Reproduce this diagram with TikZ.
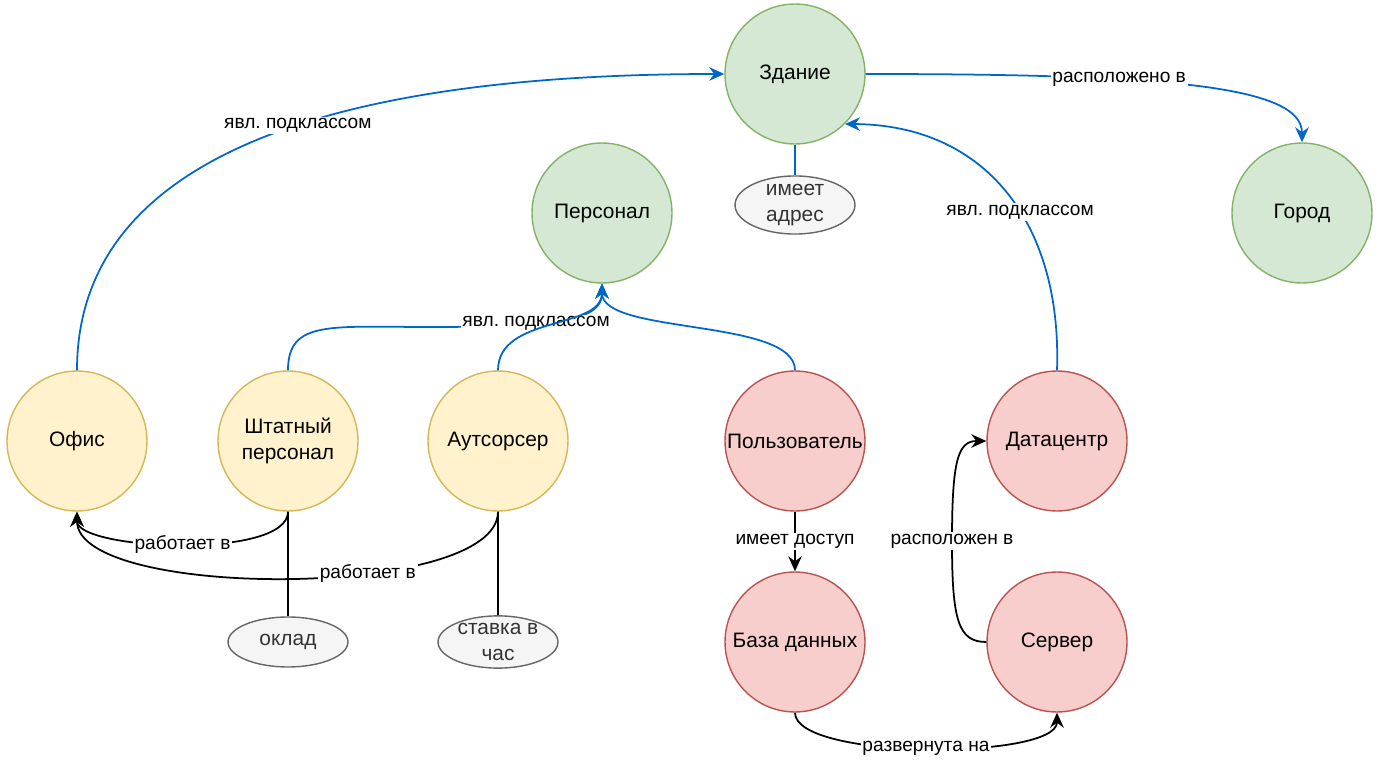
\documentclass[tikz,border=0pt]{standalone}
\usepackage{fontspec}
\setmainfont{Liberation Sans}
\usetikzlibrary{arrows.meta,shapes.geometric}
\definecolor{GeoFill}{HTML}{D5E8D4}
\definecolor{GeoLine}{HTML}{82B366}
\definecolor{StaffFill}{HTML}{FFF2CC}
\definecolor{StaffLine}{HTML}{D6B656}
\definecolor{TechFill}{HTML}{F8CECC}
\definecolor{TechLine}{HTML}{B85450}
\definecolor{AttrFill}{HTML}{F5F5F5}
\definecolor{AttrLine}{HTML}{666666}
\definecolor{AttrText}{HTML}{333333}
\definecolor{LinkBlue}{HTML}{0066CC}

\begin{document}
\frenchspacing
\begin{tikzpicture}[x=0.02cm,y=-0.02cm,
  cls/.style={circle,line width=0.8pt,minimum size=2.8cm,inner sep=0pt,align=center,
    font=\fontsize{11.9}{14.5}\selectfont},
  geo/.style={cls,draw=GeoLine,fill=GeoFill},
  staffc/.style={cls,draw=StaffLine,fill=StaffFill},
  techc/.style={cls,draw=TechLine,fill=TechFill},
  attr/.style={ellipse,draw=AttrLine,fill=AttrFill,text=AttrText,line width=0.8pt,
    minimum width=2.4cm,minimum height=1cm,inner sep=0pt,align=center,
    font=\fontsize{11.9}{14.5}\selectfont},
  rel/.style={-{Stealth[length=3mm,width=2.7mm]},line width=1pt,color=black},
  sub/.style={rel,color=LinkBlue},
  prop/.style={line width=1pt},
  lbl/.style={fill=white,inner sep=1pt,text=black,font=\fontsize{10.9}{13}\selectfont}
]
\useasboundingbox (0,0) rectangle (1377,760);

% Classes: places
\node[geo] (bld) at (795,74) {Здание};
\node[geo] (city) at (1302,213) {Город};
\node[geo] (staff) at (602,213) {Персонал};
\node[attr] (addr) at (795,205) {имеет\\адрес};

% Classes: office and people
\node[staffc] (office) at (77,441) {Офис};
\node[staffc] (emp) at (288,441) {Штатный\\персонал};
\node[staffc] (outs) at (498,441) {Аутсорсер};
\node[attr] (salary) at (288,642) {оклад};
\node[attr] (rate) at (498,642) {ставка в\\час};

% Classes: IT side
\node[techc] (user) at (795,441) {Пользователь};
\node[techc] (dc) at (1057,441) {Датацентр};
\node[techc] (db) at (795,642) {База данных};
\node[techc] (srv) at (1057,642) {Сервер};

% Subclass links (blue)
\draw[sub] (office.north) .. controls (77,170) and (300,74)
  .. node[lbl,pos=0.58]{явл. подклассом} (bld.west);
\draw[sub] (bld.east) .. controls (1160,74) and (1302,85)
  .. node[lbl,pos=0.35]{расположено в} (city.north);
\draw[sub] (dc.north) .. controls (1062,225) and (987,125)
  .. node[lbl,pos=0.43]{явл. подклассом} (bld.-45);
\draw[sub] (emp.north) .. controls (288,320) and (330,327) .. (430,327)
  .. controls (560,327) and (602,320) .. node[lbl,pos=0.35]{явл. подклассом} (staff.south);
\draw[sub] (outs.north) .. controls (498,315) and (602,330) .. (staff.south);
\draw[sub] (user.north) .. controls (795,318) and (602,335) .. (staff.south);
\draw[prop,LinkBlue] (bld.south) -- (addr.north);

% Attributes and relations (black)
\draw[prop] (emp.south) -- (salary.north);
\draw[prop] (outs.south) -- (rate.north);
\draw[rel] (emp.south) .. controls (288,560) and (77,550)
  .. node[lbl]{работает в} (office.south);
\draw[rel] (outs.south) .. controls (498,600) and (77,600)
  .. node[lbl,pos=0.37]{работает в} (office.south);
\draw[rel] (user.south) -- node[lbl]{имеет доступ} (db.north);
\draw[rel] (srv.west) .. controls (958,642) and (952,620) .. (952,541)
  node[lbl]{расположен в} .. controls (952,460) and (958,441) .. (dc.west);
\draw[rel] (db.south) .. controls (795,760) and (1057,760)
  .. node[lbl]{развернута на} (srv.south);
\end{tikzpicture}
\end{document}
